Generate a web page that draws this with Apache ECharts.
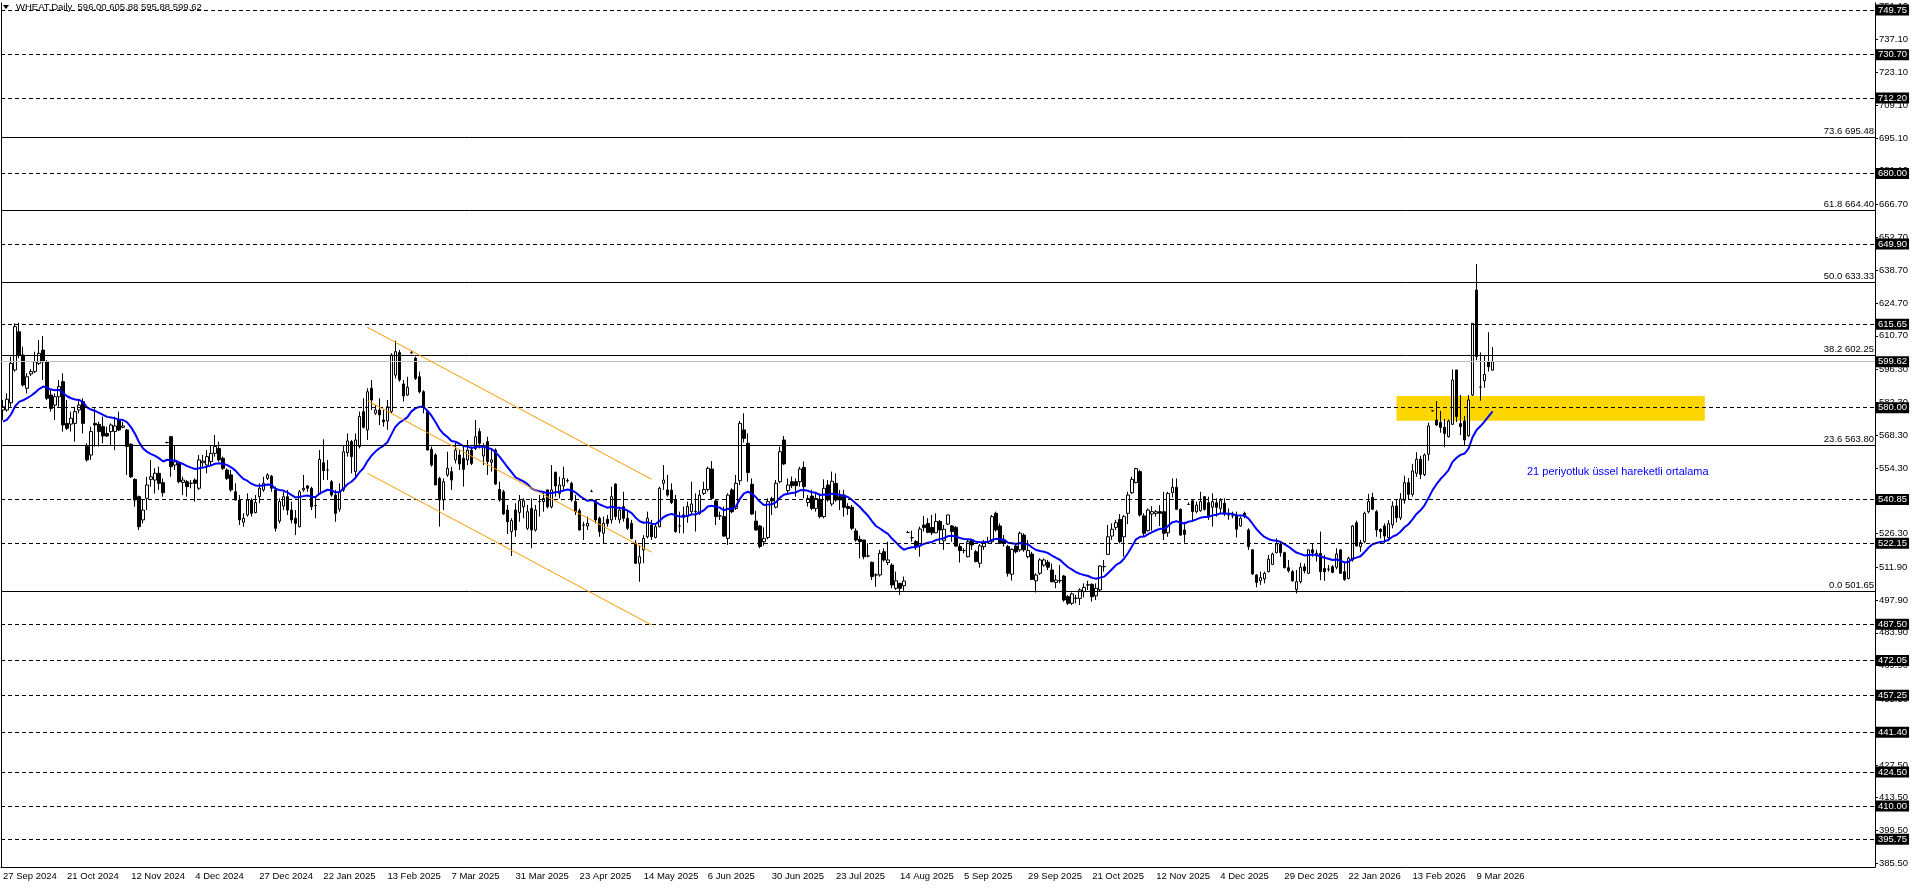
<!DOCTYPE html>
<html><head><meta charset="utf-8">
<script src="https://cdn.jsdelivr.net/npm/echarts@6/dist/echarts.min.js"></script>
<style>html,body{margin:0;padding:0;background:#fff}#c{width:1916px;height:888px}</style>
</head><body><div id="c"></div>
<script>
// ---------- DATA ----------
const dateLabels = ['27 Sep 2024','21 Oct 2024','12 Nov 2024','4 Dec 2024','27 Dec 2024','22 Jan 2025','13 Feb 2025','7 Mar 2025','31 Mar 2025','23 Apr 2025','14 May 2025','6 Jun 2025','30 Jun 2025','23 Jul 2025','14 Aug 2025','5 Sep 2025','29 Sep 2025','21 Oct 2025','12 Nov 2025','4 Dec 2025','29 Dec 2025','22 Jan 2026','13 Feb 2026','9 Mar 2026'];
const barsPerLabel = 16;
const totalSlots = 468;

const opens = [
579.0,579.0,582.1,596.1,612.4,602.5,588.3,594.4,595.4,598.9,
604.6,599.6,585.4,581.1,584.7,591.1,573.3,573.0,573.3,579.0,
582.6,563.4,559.8,573.3,572.9,571.9,569.0,569.8,569.8,574.7,
571.6,570.5,564.4,549.4,542.0,532.1,541.3,549.4,549.1,552.0,
548.0,565.1,567.6,555.5,556.2,548.1,548.4,547.7,549.1,545.6,
556.5,555.5,557.0,560.5,562.6,558.4,553.4,551.3,544.1,540.6,
531.1,534.2,540.6,535.2,542.0,544.9,549.8,550.8,544.9,531.6,
538.0,542.0,536.3,532.8,529.2,544.9,546.6,545.6,538.2,543.2,
556.5,553.4,548.4,542.7,536.7,544.9,560.8,565.5,552.7,563.4,
578.3,570.5,588.3,577.6,579.0,574.7,574.3,578.3,593.9,603.5,
590.1,585.4,603.4,601.1,593.2,586.8,578.3,562.2,559.8,549.8,
540.6,551.3,552.7,557.7,559.8,558.4,557.7,561.9,562.6,569.8,
559.4,565.5,556.7,561.9,545.1,544.1,536.3,527.1,536.3,535.3,
537.7,528.5,537.0,527.8,539.9,539.9,544.9,537.7,552.4,543.4,
546.6,548.8,547.7,539.9,536.0,529.9,529.5,544.2,540.3,532.8,
526.4,532.3,532.1,547.4,532.1,537.7,532.8,530.6,522.1,513.6,
519.3,524.9,529.9,524.6,529.2,547.7,544.9,544.8,540.6,529.5,
534.2,533.5,535.6,535.6,534.9,543.4,545.1,553.8,540.2,533.8,
533.5,524.2,544.9,537.0,548.8,570.5,564.8,547.3,531.6,529.5,
522.8,524.6,541.2,537.5,548.4,566.2,544.6,548.4,548.4,548.4,
554.5,539.5,542.3,537.0,540.9,533.5,547.0,538.9,547.7,542.0,
542.7,537.8,537.5,527.4,523.8,523.5,516.7,514.0,508.6,508.6,
518.5,513.9,512.8,502.9,505.0,504.0,526.7,524.5,522.9,521.0,
529.9,530.6,528.9,526.6,531.4,523.2,530.3,529.5,528.9,520.7,
519.0,516.4,523.5,518.5,513.6,520.7,522.8,522.8,534.9,529.5,
523.2,520.7,508.9,520.9,519.3,525.6,516.4,517.5,506.1,509.3,
512.8,514.0,510.7,505.4,506.1,508.1,499.3,496.5,498.6,498.6,
501.5,504.3,504.6,499.7,502.2,512.1,517.4,525.2,528.9,532.3,
524.9,534.9,543.7,548.0,552.7,533.8,527.5,534.6,534.9,535.6,
535.6,526.6,543.7,546.0,536.6,527.8,538.7,540.2,535.6,536.0,
542.0,539.4,537.5,539.4,537.0,539.2,534.2,533.8,533.8,529.5,
534.9,527.8,519.3,508.6,506.1,506.9,510.0,513.1,518.1,521.8,
518.1,511.7,510.0,502.4,505.7,512.1,509.3,519.3,517.8,517.8,
511.4,511.0,512.1,511.9,519.3,510.0,507.1,515.0,530.9,520.7,
522.8,535.6,541.7,535.6,528.1,529.5,524.5,530.0,538.0,533.0,
540.5,548.0,543.0,552.0,558.0,551.5,560.1,578.7,574.7,573.7,
571.6,567.6,572.9,596.1,573.2,574.3,568.0,585.4,630.2,588.8,
591.5,599.5,596.00];

const highs = [
583.3,586.1,601.8,616.0,616.3,606.0,594.7,596.5,603.9,608.9,
610.6,600.3,587.5,586.1,591.8,594.7,583.3,578.3,580.4,583.3,
584.0,564.8,571.9,579.7,574.0,576.2,571.9,573.3,576.2,578.3,
574.0,571.0,564.8,549.8,542.5,540.6,550.5,557.7,554.1,554.8,
549.8,565.5,568.0,564.1,556.9,550.5,549.1,549.1,549.8,559.8,
559.8,561.9,564.1,568.3,565.5,559.1,554.1,553.4,547.7,542.7,
534.9,543.4,541.3,542.7,547.7,550.5,552.0,551.3,546.3,541.3,
544.1,544.9,539.9,536.3,544.9,551.3,547.0,546.3,542.0,561.9,
566.5,557.7,549.1,544.9,547.7,564.1,569.0,566.2,569.0,578.3,
584.0,588.3,591.8,581.1,584.0,579.0,583.3,603.2,608.6,604.6,
591.8,593.2,604.3,601.8,595.4,587.5,579.0,563.4,560.5,550.5,
549.8,561.2,554.8,565.5,561.9,563.4,566.2,563.4,574.7,571.2,
564.8,567.6,561.9,562.6,548.4,544.9,538.5,532.8,539.2,542.7,
541.3,538.5,541.3,538.5,542.7,544.1,544.9,555.5,552.7,550.5,
554.8,549.8,548.4,542.7,537.0,531.3,533.5,545.0,540.9,533.5,
533.5,534.2,546.3,547.7,537.7,544.1,536.3,532.1,523.5,521.4,
525.6,535.6,532.1,529.9,546.3,555.5,551.3,547.7,542.7,535.6,
537.8,539.9,548.4,543.4,544.9,548.4,554.8,557.2,540.9,535.6,
537.8,543.4,545.6,551.3,574.3,577.6,569.1,549.8,536.0,529.9,
528.9,541.3,542.0,549.1,563.4,567.9,549.8,550.6,549.8,554.8,
557.0,542.7,544.9,543.4,543.4,549.4,549.1,552.7,552.0,544.9,
544.9,539.2,538.5,528.5,525.4,523.5,522.1,514.3,509.3,519.3,
520.0,522.8,513.6,510.0,505.3,507.9,527.4,527.5,523.5,529.2,
533.8,532.8,534.2,534.9,532.1,529.9,534.2,529.9,529.5,522.1,
520.0,523.5,523.9,519.3,521.8,523.5,524.9,534.2,535.6,530.6,
525.6,521.4,520.0,522.1,527.1,526.4,523.5,518.5,509.3,515.7,
515.7,515.0,513.5,508.6,512.8,508.6,500.0,501.1,500.0,502.9,
505.0,506.1,505.0,505.0,512.8,515.0,529.9,530.6,532.1,534.6,
534.2,544.1,550.5,554.3,553.4,534.9,537.0,538.0,536.3,538.4,
544.1,544.1,549.8,549.8,537.0,531.3,539.5,540.6,539.9,544.1,
542.3,542.0,543.4,541.3,541.3,541.3,537.0,535.6,535.6,533.5,
535.6,528.5,519.5,509.0,510.0,510.0,517.1,518.1,524.2,522.8,
518.5,515.0,510.7,510.7,513.8,513.5,519.5,522.1,519.3,527.1,
517.1,512.8,512.8,520.0,519.5,514.3,516.4,529.9,531.8,523.5,
535.6,543.2,543.7,536.3,528.5,530.6,532.0,540.0,541.0,543.5,
551.0,550.0,556.0,561.0,559.5,560.5,573.6,578.9,582.8,578.6,
575.2,575.0,596.3,596.1,585.4,576.4,585.4,616.0,641.3,603.6,
602.5,612.2,605.88];

const lows = [
574.7,578.3,580.4,595.4,601.1,589.0,586.1,593.5,594.7,598.2,
591.8,583.3,578.3,574.7,580.4,569.8,570.5,569.8,565.5,577.6,
569.0,557.0,557.7,563.4,563.4,564.8,567.6,564.1,561.9,570.0,
571.2,551.3,550.0,537.7,527.8,530.6,536.3,546.3,543.4,544.9,
542.0,564.8,550.5,553.4,547.7,542.7,542.0,545.6,539.9,544.9,
554.8,552.0,555.5,559.1,557.0,553.4,549.1,544.1,540.3,529.9,
529.2,533.5,533.5,534.9,539.2,544.1,549.1,544.1,527.1,530.6,
536.3,534.2,530.6,525.6,528.9,544.1,544.1,536.3,532.8,542.7,
549.1,549.1,542.0,531.3,535.6,544.1,559.1,552.0,549.8,562.6,
571.2,566.2,579.0,576.9,572.6,571.9,570.5,577.6,592.5,591.1,
582.6,585.0,603.2,591.8,586.1,577.6,561.9,554.8,547.0,529.2,
536.3,550.5,544.9,556.2,553.4,546.3,555.5,555.5,561.9,562.6,
555.5,551.3,552.7,547.0,539.9,534.2,526.1,516.7,524.9,531.3,
532.8,527.8,520.0,527.1,533.5,535.6,537.0,537.0,542.0,541.3,
544.9,548.0,539.9,534.2,527.5,523.5,527.8,544.0,530.6,524.9,
522.1,529.2,530.6,532.1,530.6,531.3,527.8,523.8,513.3,505.7,
513.6,524.2,523.5,524.2,528.9,544.9,542.0,538.9,526.6,526.4,
526.4,530.9,534.2,527.1,534.2,542.7,544.2,540.6,529.9,532.1,
524.9,521.4,534.9,536.3,547.0,565.1,548.4,534.2,527.5,520.0,
521.1,523.8,534.2,537.0,547.7,555.5,542.7,545.6,542.0,546.3,
541.3,537.8,536.3,535.6,532.8,532.8,539.9,538.0,539.9,536.3,
533.5,534.2,527.8,522.8,515.7,515.3,516.1,506.4,503.6,507.9,
514.3,512.8,502.9,502.2,500.0,501.9,526.5,522.8,519.3,516.4,
527.1,526.4,525.6,526.4,522.1,519.3,529.9,522.8,520.7,513.9,
517.8,516.1,519.3,514.0,511.7,519.3,522.1,522.1,527.1,521.8,
520.7,507.9,506.2,517.8,518.5,518.5,515.7,506.4,501.1,508.6,
512.1,510.7,505.4,502.9,505.0,497.2,495.8,495.8,496.5,495.8,
499.0,502.2,497.2,497.9,501.5,510.0,517.1,523.5,527.8,522.1,
516.4,530.3,543.2,547.7,533.5,525.2,527.1,527.5,533.5,529.5,
523.5,524.9,541.7,536.3,525.4,522.4,538.5,531.3,534.9,535.6,
536.0,532.1,529.2,533.5,534.9,533.8,532.1,532.8,524.6,529.2,
532.8,519.3,508.6,503.3,504.3,505.0,509.7,512.8,517.8,516.4,
511.4,509.6,505.7,500.7,505.0,509.3,509.0,516.4,514.3,506.4,
506.1,510.0,509.3,511.0,509.0,506.1,506.7,514.3,520.7,518.5,
522.1,534.9,536.3,524.9,524.2,522.1,523.0,528.5,531.0,532.0,
539.0,541.0,542.0,550.5,549.5,550.8,557.4,578.4,572.2,569.3,
563.1,567.3,572.6,573.9,568.3,563.6,567.6,585.0,600.3,583.0,
588.5,595.4,595.88];

const closes = [
580.4,583.6,598.9,614.6,602.5,589.7,593.2,595.4,599.6,603.2,
599.6,584.0,579.7,584.7,589.0,572.6,571.2,575.5,578.3,581.1,
573.3,557.7,569.8,572.6,569.8,567.9,567.9,572.6,572.2,570.5,
572.2,563.4,550.5,540.6,529.2,536.3,547.0,550.5,552.0,547.7,
543.7,565.1,554.8,556.9,548.4,549.1,546.3,547.7,547.7,557.7,
557.2,559.1,560.5,563.4,557.7,554.1,549.8,544.9,540.6,532.1,
532.8,540.6,534.9,539.5,545.6,547.7,551.3,545.6,528.5,539.9,
542.0,536.3,532.1,530.6,544.1,545.6,545.6,537.7,538.2,557.9,
553.1,553.4,542.7,534.9,544.1,561.2,565.8,559.1,566.2,576.2,
571.6,586.8,583.3,579.0,576.9,574.0,580.4,602.5,603.9,591.8,
585.0,588.7,603.4,592.5,586.8,580.4,561.9,555.5,547.0,540.6,
548.4,554.1,549.1,561.9,556.0,553.7,561.9,556.2,567.6,564.8,
563.4,557.0,557.7,547.4,540.6,534.6,531.3,531.8,527.8,540.3,
540.3,535.6,527.8,536.3,539.9,541.3,537.7,544.9,546.6,547.0,
549.8,548.9,540.6,535.6,527.8,529.9,530.6,544.2,532.1,527.1,
530.6,530.6,542.0,533.5,536.3,532.8,528.5,524.2,513.6,516.4,
524.2,532.8,524.9,529.2,545.6,549.1,542.7,539.5,527.1,529.5,
533.2,537.8,538.9,535.8,542.7,545.1,554.1,541.3,533.5,533.8,
525.2,542.7,535.6,547.7,573.3,566.9,552.3,534.6,527.8,520.7,
524.2,539.9,540.2,547.7,561.2,556.0,547.0,546.7,546.7,553.8,
546.3,541.3,537.0,541.3,533.5,545.6,540.6,548.6,540.6,540.6,
537.5,537.0,528.5,523.5,522.8,516.4,516.7,507.9,508.6,517.8,
515.0,515.0,504.3,506.1,502.9,506.0,526.7,524.5,520.7,528.2,
528.8,526.8,526.6,531.4,527.8,528.1,534.2,527.1,520.9,519.0,
519.0,522.8,521.4,514.3,521.0,522.8,522.9,533.5,527.8,522.1,
522.1,509.3,519.5,518.5,526.4,519.3,519.0,506.7,508.6,515.0,
515.0,511.9,505.7,506.4,506.2,497.9,496.5,500.5,498.7,502.2,
503.3,504.4,499.3,502.9,512.4,512.2,524.9,528.1,530.9,522.8,
533.5,542.7,549.4,554.0,534.2,526.4,536.3,535.6,535.6,534.9,
526.4,543.4,546.0,536.6,525.6,525.9,538.7,535.6,538.4,539.9,
536.6,533.8,539.9,537.5,540.3,534.6,534.3,533.9,528.1,532.8,
533.5,520.7,509.0,505.4,507.4,509.3,515.3,517.5,521.8,518.1,
511.7,510.4,506.1,505.7,511.9,510.4,519.3,518.1,516.7,510.0,
510.0,511.1,509.7,517.5,509.3,506.7,515.7,529.5,521.0,522.4,
534.9,539.9,536.6,527.8,527.1,525.2,530.5,538.0,533.0,541.0,
548.0,543.0,553.0,558.0,551.5,559.8,572.2,578.7,572.6,571.6,
569.0,574.3,591.8,576.2,571.9,566.2,583.3,616.0,601.8,588.8,
594.2,597.5,599.62];

const yTickValues = [751.10,737.10,723.10,709.10,695.10,681.10,666.70,652.70,638.70,624.70,610.70,596.30,582.30,568.30,554.30,540.30,526.30,511.90,497.90,483.90,469.90,455.50,441.50,427.50,413.50,399.50,385.50];
const levelLines = [749.75,730.70,712.20,680.00,649.90,615.65,580.00,540.85,522.15,487.50,472.05,457.25,441.40,424.50,410.00,395.75];
const fibPercents = ['73.6','61.8','50.0','38.2','23.6','0.0'];
const fibValues = [695.48,664.40,633.33,602.25,563.80,501.65];
const bidPrice = 599.62;
const channelUpper = [[91, 614.3], [162, 549.4]];
const channelMiddle = [[91, 583.0], [162, 518.3]];
const channelLower = [[91, 552.0], [162, 487.2]];
const zoneBox = [[348, 585.0], [425, 574.4]];
const emaPeriod = 21;
const emaStart = 573.4;
const titleText = 'WHEAT,Daily  596.00 605.88 595.88 599.62';
const noteText = '21 periyotluk üssel hareketli ortalama';
const yMin = 383.93, yMax = 752.74;

// ---------- BUILD ----------
const FONT = 'Liberation Sans';
const cats = Array.from({length: totalSlots}, (_, i) => String(i));
const candleData = opens.map((o, i) => [o, closes[i], lows[i], highs[i]]);
const kEma = 2 / (emaPeriod + 1);
let e = emaStart;
const ema = closes.map(c => +(e = e + kEma * (c - e)).toFixed(3));
const lastLabelIdx = (dateLabels.length - 1) * barsPerLabel;
const showIdx = (i) => i % barsPerLabel === 0 && i <= lastLabelIdx;

const boxLabel = (v) => ({show: true, position: 'end', formatter: v.toFixed(2), backgroundColor: '#000', color: '#fff',
  padding: [1, 2, 0, 2], fontSize: 9.5, fontFamily: FONT, distance: 1, lineHeight: 10});

const markLines = [];
levelLines.forEach(v => markLines.push({yAxis: v, lineStyle: {type: [4, 3], color: '#000', width: 1}, label: boxLabel(v)}));
fibValues.forEach((v, k) => markLines.push({yAxis: v, lineStyle: {type: 'solid', color: '#000', width: 1},
  label: {show: true, position: 'insideEndTop', formatter: fibPercents[k] + ' ' + v.toFixed(2), color: '#000', fontSize: 9.5, fontFamily: FONT, distance: 1}}));
markLines.push({yAxis: bidPrice, lineStyle: {type: 'solid', color: '#c0c0c0', width: 1}, label: boxLabel(bidPrice)});
[channelUpper, channelMiddle, channelLower].forEach(ch => markLines.push([
  {coord: ch[0], lineStyle: {color: '#ff9900', width: 1, type: 'solid'}, label: {show: false}},
  {coord: ch[1]}
]));

const chart = echarts.init(document.getElementById('c'), null, {renderer: 'canvas'});
chart.setOption({
  animation: false,
  backgroundColor: '#fff',
  textStyle: {fontFamily: FONT},
  grid: {left: 1, right: 41, top: 3, bottom: 21, show: false},
  xAxis: {
    type: 'category', data: cats, boundaryGap: true,
    axisLine: {lineStyle: {color: '#000', width: 1}},
    axisTick: {alignWithLabel: true, length: 4, interval: (i) => showIdx(i), lineStyle: {color: '#000'}},
    axisLabel: {interval: (i) => showIdx(i), formatter: (v, i) => showIdx(i) ? dateLabels[i / barsPerLabel] : '',
      align: 'left', margin: 4, fontSize: 9.5, color: '#000', fontFamily: FONT},
    splitLine: {show: false}
  },
  yAxis: [{
    type: 'value', position: 'right', min: yMin, max: yMax, scale: true,
    axisLine: {show: true, lineStyle: {color: '#000', width: 1}},
    axisTick: {show: true, length: 3, customValues: yTickValues, lineStyle: {color: '#000'}},
    axisLabel: {customValues: yTickValues, formatter: (v) => v.toFixed(2), fontSize: 9.5, color: '#000', margin: 4, fontFamily: FONT},
    splitLine: {show: false}
  }, {
    type: 'value', position: 'left', min: yMin, max: yMax, scale: true,
    axisLine: {show: true, lineStyle: {color: '#000', width: 1}},
    axisTick: {show: false}, axisLabel: {show: false}, splitLine: {show: false}
  }],
  graphic: [
    {type: 'polygon', shape: {points: [[3, 5], [9, 5], [6, 9]]}, style: {fill: '#000'}, z: 100},
    {type: 'text', left: 16, top: 2, style: {text: titleText, fill: '#000', fontSize: 9.5, fontFamily: FONT}, z: 100},
    {type: 'text', left: 1527, top: 466, style: {text: noteText, fill: '#0000ff', fontSize: 11, fontFamily: FONT}, z: 100}
  ],
  series: [
    {
      type: 'candlestick', name: 'WHEAT', data: candleData, barWidth: 3, z: 2,
      itemStyle: {color: '#fff', color0: '#000', borderColor: '#000', borderColor0: '#000', borderWidth: 1},
      markLine: {silent: true, symbol: ['none', 'none'], animation: false, data: markLines},
      markArea: {silent: true, itemStyle: {color: '#ffd700', opacity: 1},
        data: [[{coord: zoneBox[0]}, {coord: zoneBox[1]}]]}
    },
    {
      type: 'line', name: 'EMA21', data: ema, showSymbol: false, symbol: 'none', z: 3,
      lineStyle: {color: '#0000ff', width: 2}, silent: true
    }
  ]
});
</script>
</body></html>
